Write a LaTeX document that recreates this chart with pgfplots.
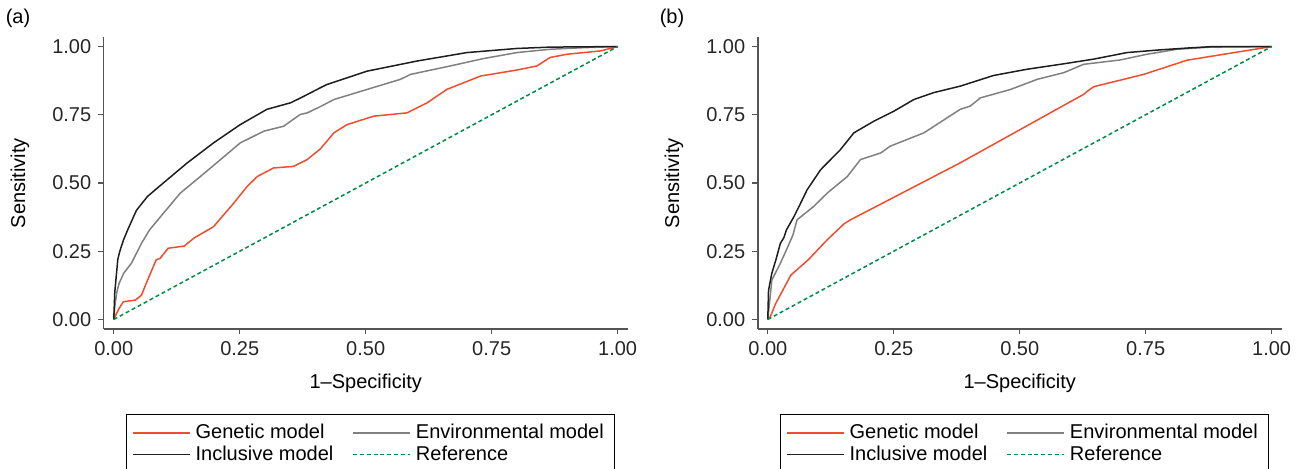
\documentclass[border=0pt]{standalone}
\usepackage{pgfplots}
\pgfplotsset{compat=1.18}
\usepackage{fontspec}
\setmainfont{Liberation Sans}

\definecolor{genred}{RGB}{238,78,46}
\definecolor{envgray}{RGB}{128,128,128}
\definecolor{incblack}{RGB}{30,30,30}
\definecolor{refgreen}{RGB}{0,140,72}
\definecolor{axisgray}{RGB}{85,85,85}

\pgfplotsset{
  rocstyle/.style={
    scale only axis, width=262pt, height=146pt,
    xmin=-0.02, xmax=1.02, ymin=-0.035, ymax=1.035,
    axis x line*=bottom, axis y line*=left,
    axis line style={-, axisgray, line width=0.8pt},
    tick style={axisgray, line width=0.7pt},
    tick align=outside, major tick length=2.7pt,
    xtick={0,0.25,0.5,0.75,1}, ytick={0,0.25,0.5,0.75,1},
    /pgf/number format/.cd, fixed, fixed zerofill, precision=2,
    assume math mode=true, /pgfplots/.cd,
    tick label style={font=\fontsize{10}{12}\selectfont, text=black!85},
    label style={font=\fontsize{10}{12}\selectfont},
    xlabel={1--Specificity}, ylabel={Sensitivity},
    xlabel style={at={(axis description cs:0.5,-0.185)}, anchor=center},
    ylabel style={at={(axis description cs:-0.16,0.5)}, anchor=center},
    legend columns=2,
    legend cell align=left,
    legend style={at={(axis description cs:0.042,-0.291)}, anchor=north west,
      draw=black, inner xsep=3pt, inner ysep=4pt,
      font=\fontsize{10}{12}\selectfont, row sep=0pt,
      nodes={inner xsep=2.5pt, inner ysep=1pt},
      /tikz/every even column/.append style={column sep=7pt}},
  },
}

\begin{document}
\begin{tikzpicture}
\path[use as bounding box] (-51.85pt,-69.5pt) rectangle (600.15pt,164.5pt);

% (a)
\begin{axis}[rocstyle, name=pa, at={(0pt,0pt)}, anchor=south west,
  legend image code/.code={\draw[#1] (0pt,0pt) -- (28.5pt,0pt);}]
\addplot[color=genred, line width=0.75pt] coordinates {
(0,0) (0.005,0.02) (0.0105,0.04) (0.019,0.065) (0.043,0.071) (0.055,0.089)
(0.063,0.126) (0.084,0.218) (0.092,0.224) (0.108,0.261) (0.14,0.269) (0.159,0.298)
(0.198,0.34) (0.238,0.426) (0.265,0.488) (0.285,0.524) (0.317,0.555) (0.357,0.561)
(0.384,0.586) (0.41,0.625) (0.437,0.684) (0.463,0.714) (0.516,0.745) (0.582,0.757)
(0.622,0.794) (0.661,0.843) (0.728,0.892) (0.80,0.914) (0.84,0.929) (0.866,0.96)
(0.90,0.972) (0.966,0.984) (1,1)};
\addlegendentry{Genetic model}
\addplot[color=envgray, line width=0.75pt] coordinates {
(0,0) (0.002,0.046) (0.006,0.1) (0.0105,0.132) (0.02,0.17) (0.035,0.206)
(0.055,0.279) (0.071,0.328) (0.093,0.377) (0.132,0.463) (0.172,0.524) (0.212,0.586)
(0.251,0.647) (0.298,0.69) (0.337,0.708) (0.37,0.751) (0.384,0.757) (0.41,0.78)
(0.437,0.806) (0.503,0.843) (0.569,0.88) (0.589,0.898) (0.668,0.929) (0.734,0.956)
(0.80,0.978) (0.866,0.99) (0.933,0.996) (1,1)};
\addlegendentry{Environmental model}
\addplot[color=incblack, line width=0.75pt] coordinates {
(0,0) (0.002,0.1) (0.005,0.16) (0.008,0.22) (0.012,0.25) (0.019,0.29) (0.028,0.33)
(0.045,0.4) (0.067,0.451) (0.106,0.512) (0.146,0.574) (0.198,0.647) (0.251,0.714)
(0.304,0.77) (0.351,0.794) (0.371,0.812) (0.41,0.849) (0.423,0.861) (0.503,0.91)
(0.602,0.947) (0.701,0.978) (0.80,0.993) (0.866,0.998) (1,1)};
\addlegendentry{Inclusive model}
\addplot[color=refgreen, line width=0.75pt, dash pattern=on 2pt off 1.4pt] coordinates {(0,0) (1,1)};
\addlegendentry{Reference}
\end{axis}

% (b)
\begin{axis}[rocstyle, name=pb, at={(327pt,0pt)}, anchor=south west,
  legend image code/.code={\draw[#1] (0pt,0pt) -- (28.5pt,0pt);}]
\addplot[color=genred, line width=0.75pt] coordinates {
(0,0) (0.005,0.01) (0.015,0.056) (0.046,0.163) (0.08,0.218) (0.118,0.292)
(0.151,0.35) (0.164,0.365) (0.382,0.574) (0.627,0.825) (0.637,0.84) (0.647,0.853)
(0.746,0.898) (0.832,0.95) (1,1)};
\addlegendentry{Genetic model}
\addplot[color=envgray, line width=0.75pt] coordinates {
(0,0) (0.004,0.071) (0.008,0.144) (0.025,0.206) (0.037,0.255) (0.05,0.31)
(0.058,0.365) (0.091,0.414) (0.118,0.463) (0.158,0.524) (0.184,0.586) (0.224,0.61)
(0.243,0.635) (0.31,0.684) (0.382,0.77) (0.402,0.782) (0.422,0.812) (0.482,0.843)
(0.535,0.88) (0.587,0.904) (0.627,0.935) (0.70,0.951) (0.753,0.972) (0.812,0.99)
(0.878,0.998) (1,1)};
\addlegendentry{Environmental model}
\addplot[color=incblack, line width=0.75pt] coordinates {
(0,0) (0.0015,0.107) (0.008,0.169) (0.016,0.218) (0.025,0.279) (0.032,0.3)
(0.037,0.328) (0.052,0.377) (0.062,0.414) (0.078,0.475) (0.105,0.549) (0.144,0.622)
(0.171,0.684) (0.21,0.726) (0.25,0.763) (0.29,0.806) (0.329,0.831) (0.382,0.855)
(0.448,0.894) (0.515,0.917) (0.581,0.935) (0.647,0.954) (0.713,0.978) (0.779,0.988)
(0.845,0.996) (0.885,1) (1,1)};
\addlegendentry{Inclusive model}
\addplot[color=refgreen, line width=0.75pt, dash pattern=on 2pt off 1.4pt] coordinates {(0,0) (1,1)};
\addlegendentry{Reference}
\end{axis}

\node[font=\fontsize{10}{12}\selectfont] at ([xshift=-42.85pt,yshift=155.5pt]pa.south west) {(a)};
\node[font=\fontsize{10}{12}\selectfont] at ([xshift=-42.85pt,yshift=155.5pt]pb.south west) {(b)};
\end{tikzpicture}
\end{document}
